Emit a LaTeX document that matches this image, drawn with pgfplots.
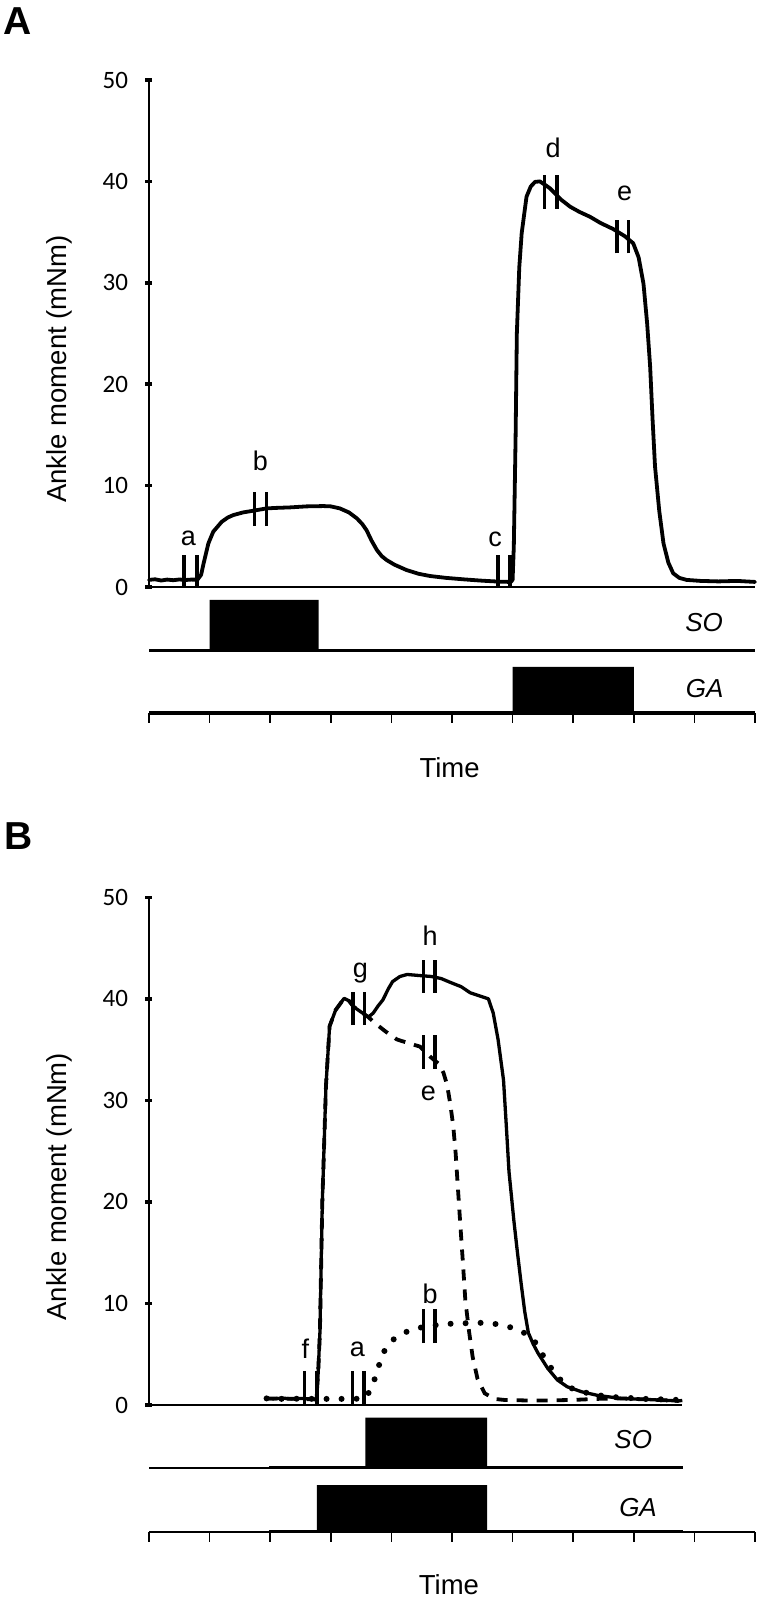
\documentclass[border=0pt]{standalone}
\usepackage{fontspec}
\setmainfont{Liberation Sans}
\newfontfamily\tickfont{Carlito}
\usepackage{pgfplots}
\pgfplotsset{compat=1.18}

\tikzset{
  curve/.style={line width=3.8pt, black, line join=round, line cap=round},
  mk/.style={line width=3.5pt, black},
  lab/.style={font=\fontsize{27}{27}\selectfont, anchor=base},
  chan/.style={font=\itshape\fontsize{26}{26}\selectfont},
}
\pgfplotsset{
  momentaxis/.style={
    scale only axis, xmin=0, ymin=0, ymax=50,
    axis y line*=left, axis x line*=bottom,
    xtick=\empty, ytick={0,10,20,30,40,50},
    yticklabels={0,10,20,30,40,50},
    yticklabel style={font=\tickfont\fontsize{25}{25}\selectfont, anchor=east, xshift=-14pt},
    ytick align=center, major tick length=7pt,
    y tick style={line width=3.5pt, black},
    axis line style={line width=1.8pt, black},
    clip=false,
    ylabel={Ankle moment (mNm)},
    ylabel style={font=\fontsize{27.5}{30}\selectfont, at={(axis description cs:0,0.43)}, anchor=center, yshift=90pt},
  },
  stripaxis/.style={
    scale only axis, xmin=0, xmax=10, width=606pt,
    axis y line=none, axis x line*=bottom,
    xtick={0,1,...,10}, xticklabels={},
    xtick align=outside, major tick length=10pt,
    x tick style={line width=1.6pt, black},
    axis line style={line width=2pt, black},
    clip=false,
  },
}

\begin{document}
\begin{tikzpicture}
\path[use as bounding box] (0pt,0pt) rectangle (757pt,1599pt);

% Panel letters
\node[font=\bfseries\fontsize{39}{39}\selectfont] at (18pt,1578pt) {A};
\node[font=\bfseries\fontsize{39}{39}\selectfont] at (18.5pt,762.5pt) {B};

% ================= Panel A: moment =================
\begin{axis}[momentaxis, at={(149pt,1012pt)}, anchor=south west, width=606pt, height=507pt, xmax=10]
\addplot[curve] coordinates {
(0,0.7) (0.1,0.76) (0.2,0.64) (0.3,0.73) (0.4,0.67) (0.5,0.74) (0.6,0.69) (0.7,0.73) (0.8,0.72)
(0.86,1.2) (0.90,2.3) (0.98,4.3) (1.06,5.45) (1.2,6.43) (1.3,6.85) (1.39,7.09) (1.55,7.35)
(1.72,7.52) (1.94,7.75) (2.1,7.8) (2.33,7.85) (2.6,7.95) (2.88,7.98) (3.0,7.95) (3.15,7.75)
(3.3,7.35) (3.43,6.77) (3.52,6.2) (3.59,5.6) (3.67,4.6) (3.76,3.65) (3.84,3.05) (3.92,2.66)
(4.05,2.2) (4.25,1.67) (4.45,1.3) (4.64,1.08) (4.9,0.9) (5.2,0.75) (5.5,0.62) (5.8,0.52)
(5.97,0.5) (6.0,0.7) (6.02,4) (6.05,15) (6.07,25) (6.11,31.5) (6.15,34.9) (6.23,38.5)
(6.3,39.5) (6.37,39.95) (6.45,40) (6.55,39.6) (6.62,39.3) (6.8,38.2) (6.95,37.5) (7.1,37)
(7.28,36.5) (7.45,35.9) (7.66,35.3) (7.85,34.6) (7.99,33.9) (8.08,32.5) (8.16,29.9)
(8.22,26) (8.27,21.7) (8.31,16.5) (8.35,11.9) (8.42,7.5) (8.49,4.3) (8.57,2.4) (8.65,1.35)
(8.75,0.9) (8.87,0.7) (9.1,0.6) (9.4,0.55) (9.7,0.6) (10,0.5)
};
% markers
\addplot[mk] coordinates {(0.58,0) (0.58,3.15)};
\addplot[mk] coordinates {(0.79,0) (0.79,3.15)};
\addplot[mk] coordinates {(1.74,6.0) (1.74,9.4)};
\addplot[mk] coordinates {(1.94,6.0) (1.94,9.4)};
\addplot[mk] coordinates {(5.76,0) (5.76,3.2)};
\addplot[mk] coordinates {(5.96,0) (5.96,3.2)};
\addplot[mk] coordinates {(6.53,37.3) (6.53,40.6)};
\addplot[mk] coordinates {(6.73,37.3) (6.73,40.6)};
\addplot[mk] coordinates {(7.72,32.9) (7.72,36.2)};
\addplot[mk] coordinates {(7.91,32.9) (7.91,36.2)};
\node[lab] at (axis cs:0.65,4.14) {a};
\node[lab] at (axis cs:1.84,11.53) {b};
\node[lab] at (axis cs:5.71,3.97) {c};
\node[lab] at (axis cs:6.67,42.4) {d};
\node[lab] at (axis cs:7.85,38.1) {e};
\end{axis}

% ================= Panel A: strips =================
\begin{axis}[stripaxis, at={(149pt,886pt)}, anchor=south west, height=126.4pt, ymin=-12.45, ymax=0,
  xlabel={Time}, xlabel style={font=\fontsize{27.5}{27.5}\selectfont, at={(axis description cs:0.496,0)}, anchor=center, yshift=-55pt}]
\addplot[line width=3.3pt, black] coordinates {(0,-6.3) (10,-6.3)};
\addplot[line width=3.3pt, black] coordinates {(0,-12.45) (10,-12.45)};
\addplot[fill=black, draw=none] coordinates {(1,-6.3) (1,-1.3) (2.8,-1.3) (2.8,-6.3) (1,-6.3)};
\addplot[fill=black, draw=none] coordinates {(6,-12.45) (6,-7.9) (8,-7.9) (8,-12.45) (6,-12.45)};
\node[chan] at (axis cs:9.16,-3.5) {SO};
\node[chan] at (axis cs:9.17,-10.05) {GA};
\end{axis}

% ================= Panel B: moment =================
\begin{axis}[momentaxis, at={(149pt,194pt)}, anchor=south west, width=533.3pt, height=507.7pt, xmax=8.8,
  x axis line style={line width=2.6pt}]
% dotted (SO)
\addplot[line width=6pt, black, line cap=round, dash pattern=on 0pt off 15pt] coordinates {
(1.94,0.65) (2.2,0.6) (2.5,0.62) (2.8,0.6) (3.0,0.6) (3.2,0.6) (3.4,0.6) (3.58,0.7) (3.66,1.6)
(3.74,2.8) (3.8,4) (3.86,5.1) (3.96,6) (4.06,6.6) (4.2,7.1) (4.34,7.4) (4.5,7.65) (4.66,7.8)
(4.82,7.95) (4.98,8.0) (5.2,8.05) (5.54,8.1) (5.7,8.0) (5.86,7.8) (6.0,7.6) (6.14,7.3)
(6.24,6.9) (6.34,6.5) (6.46,5.3) (6.58,4.1) (6.74,2.8) (6.9,1.8) (7.14,1.3) (7.38,1.0)
(7.6,0.8) (7.9,0.7) (8.2,0.6) (8.5,0.55) (8.74,0.5)
};
% dashed (GA)
\addplot[line width=3.8pt, black, dash pattern=on 11pt off 9pt] coordinates {
(1.94,0.65) (2.3,0.62) (2.76,0.55) (2.79,3) (2.82,7.1) (2.86,20) (2.92,31.4) (2.98,37.3)
(3.08,38.9) (3.22,40.05) (3.3,39.8) (3.38,39.2) (3.5,38.7) (3.62,38.2) (3.73,37.6) (3.9,36.8)
(4.09,36) (4.3,35.6) (4.47,35.3) (4.66,34.2) (4.78,33.6) (4.86,32.7) (4.92,31.5) (4.97,29.7)
(5.02,27.5) (5.06,24.8) (5.13,18.4) (5.18,14) (5.22,10.3) (5.28,7.3) (5.34,4.76) (5.42,2.6)
(5.54,1.15) (5.7,0.6) (5.86,0.5) (6.2,0.45) (6.6,0.45) (7.0,0.5) (7.38,0.6) (7.78,0.65)
(8.2,0.55) (8.74,0.4)
};
% solid (SO+GA)
\addplot[line width=3.3pt, black, line join=round] coordinates {
(1.94,0.65) (2.05,0.6) (2.2,0.68) (2.35,0.6) (2.5,0.65) (2.65,0.6) (2.76,0.55) (2.79,3)
(2.82,7.1) (2.86,20) (2.92,31.4) (2.98,37.3) (3.08,38.9) (3.22,40.05) (3.3,39.8) (3.38,39.2)
(3.5,38.7) (3.62,38.2) (3.7,38.6) (3.78,39.3) (3.86,39.9) (3.95,41) (4.02,41.7) (4.14,42.2)
(4.26,42.4) (4.45,42.3) (4.66,42.2) (4.82,42) (4.98,41.6) (5.15,41.2) (5.3,40.6) (5.45,40.3)
(5.6,40.0) (5.68,38.6) (5.76,36) (5.85,32) (5.9,27.1) (5.94,23) (6.02,18.2) (6.08,15)
(6.14,12) (6.2,9.2) (6.26,7.1) (6.34,6) (6.42,5.1) (6.58,3.6) (6.74,2.46) (6.9,1.8)
(7.14,1.3) (7.4,0.95) (7.78,0.65) (8.2,0.55) (8.74,0.4) (8.8,0.45)
};
% markers
\addplot[mk] coordinates {(2.57,0) (2.57,3.3)};
\addplot[mk] coordinates {(2.77,0) (2.77,3.3)};
\addplot[mk] coordinates {(3.36,0) (3.36,3.3)};
\addplot[mk] coordinates {(3.55,0) (3.55,3.3)};
\addplot[mk] coordinates {(4.53,6.1) (4.53,9.5)};
\addplot[mk] coordinates {(4.72,6.1) (4.72,9.5)};
\addplot[mk] coordinates {(3.37,37.4) (3.37,40.7)};
\addplot[mk] coordinates {(3.56,37.4) (3.56,40.7)};
\addplot[mk] coordinates {(4.53,40.6) (4.53,43.8)};
\addplot[mk] coordinates {(4.72,40.6) (4.72,43.8)};
\addplot[mk] coordinates {(4.53,33.1) (4.53,36.4)};
\addplot[mk] coordinates {(4.72,33.1) (4.72,36.4)};
\node[lab] at (axis cs:2.58,4.6) {f};
\node[lab] at (axis cs:3.44,4.76) {a};
\node[lab] at (axis cs:4.64,10.0) {b};
\node[lab] at (axis cs:3.49,42.1) {g};
\node[lab] at (axis cs:4.64,45.3) {h};
\node[lab] at (axis cs:4.61,30.0) {e};
\end{axis}

% ================= Panel B: strips =================
\begin{axis}[stripaxis, at={(149pt,67.3pt)}, anchor=south west, height=126.7pt, ymin=-12.48, ymax=0,
  xlabel={Time}, xlabel style={font=\fontsize{27.5}{27.5}\selectfont, at={(axis description cs:0.495,0)}, anchor=center, yshift=-53pt}]
\addplot[line width=2pt, black] coordinates {(0,-6.18) (8.82,-6.18)};
\addplot[line width=3.5pt, black] coordinates {(1.98,-6.18) (8.82,-6.18)};
\addplot[line width=3.5pt, black] coordinates {(1.98,-12.48) (8.82,-12.48)};
\addplot[fill=black, draw=none] coordinates {(3.57,-6.18) (3.57,-1.25) (5.58,-1.25) (5.58,-6.18) (3.57,-6.18)};
\addplot[fill=black, draw=none] coordinates {(2.77,-12.48) (2.77,-7.88) (5.58,-7.88) (5.58,-12.48) (2.77,-12.48)};
\node[chan] at (axis cs:7.99,-3.45) {SO};
\node[chan] at (axis cs:8.07,-10.1) {GA};
\end{axis}
\end{tikzpicture}
\end{document}
